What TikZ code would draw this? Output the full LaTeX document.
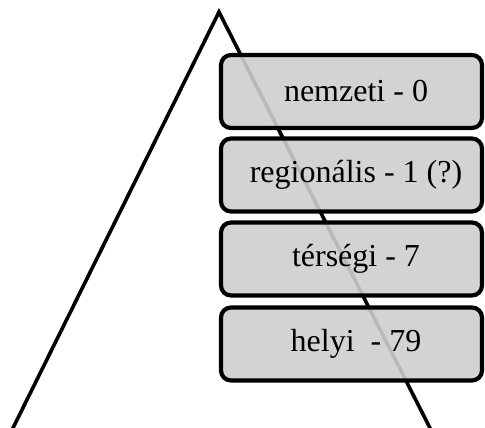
\documentclass[tikz,border=0pt]{standalone}
\usepackage{fontspec}
\setmainfont{Liberation Serif}
\begin{document}
\begin{tikzpicture}[x=1pt,y=1pt,
  levelbox/.style={draw=black, line width=4.2pt, rounded corners=10pt,
    fill={rgb,255:red,206;green,206;blue,206}, fill opacity=0.9, text opacity=1,
    minimum width=261pt, minimum height=73pt, inner sep=0pt,
    font=\fontsize{32}{38}\selectfont},
  triline/.style={line width=3.6pt, line join=miter}]
\useasboundingbox (0,0) rectangle (485,428);
\begin{scope}
\clip (0,0) rectangle (485,428);
\coordinate (apex) at (219,416);
\coordinate (bl) at (11,-4);
\coordinate (br) at (432,-4);
\draw[triline] (bl) -- (apex) -- (br);
\end{scope}
\node[levelbox] (b1) at (351.5,336.5) {\hspace*{9pt}nemzeti - 0};
\node[levelbox] (b2) at (351.5,253) {\hspace*{9pt}regionális - 1 (?)};
\node[levelbox] (b3) at (351.5,169) {\hspace*{9pt}térségi - 7};
\node[levelbox] (b4) at (351.5,84) {\hspace*{9pt}helyi \ - 79};
\end{tikzpicture}
\end{document}
